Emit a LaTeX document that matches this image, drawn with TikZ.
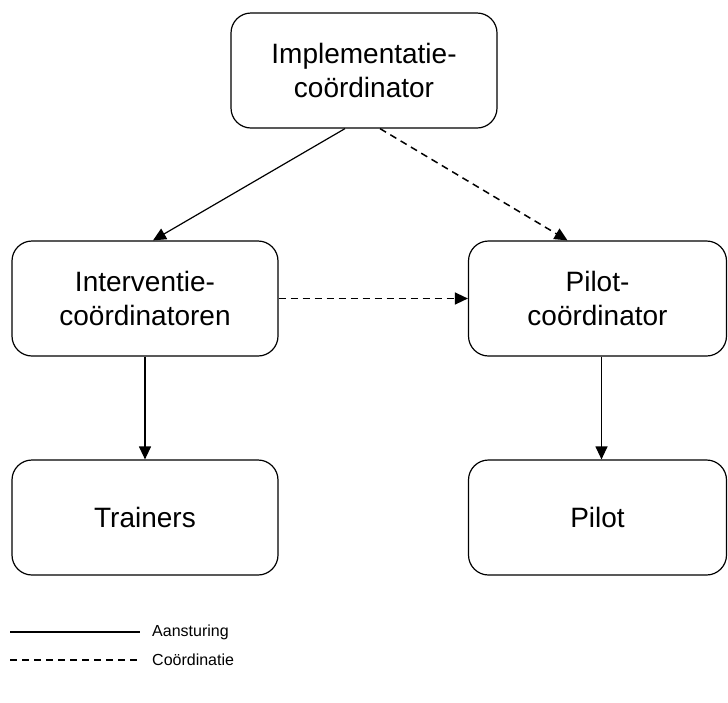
\documentclass[tikz,border=0pt]{standalone}
\usepackage{fontspec}
\setmainfont{Liberation Sans}
\usetikzlibrary{arrows.meta}
\begin{document}
\begin{tikzpicture}[x=1pt,y=-1pt,
  box/.style={draw, line width=1.2pt, rounded corners=20pt, minimum width=266pt, minimum height=115pt, align=center, font=\fontsize{28}{34}\selectfont, inner sep=0pt},
  conn/.style={line width=1.2pt, -{Triangle[length=13pt,width=12pt]}},
  dsh/.style={line width=1.5pt, dash pattern=on 7pt off 5pt},
  leg/.style={font=\fontsize{16}{19}\selectfont, anchor=west, inner sep=0pt}]
\useasboundingbox (0,0) rectangle (728,702);
\node[box] (top) at (364,70.5) {Implementatie-\\coördinator};
\node[box] (ic) at (145,298.5) {Interventie-\\coördinatoren};
\node[box, minimum width=258pt] (pc) at (597.5,298.5) {Pilot-\\coördinator};
\node[box] (tr) at (145,517.5) {Trainers};
\node[box, minimum width=258pt] (pi) at (597.5,517.5) {Pilot};
\draw[conn] ([xshift=-19pt]top.south) -- ([xshift=8pt]ic.north);
\draw[conn,dsh] ([xshift=16pt]top.south) -- ([xshift=-30pt]pc.north);
\draw[conn,dsh] (ic.east) -- (pc.west);
\draw[conn] (ic.south) -- (tr.north);
\draw[conn] ([xshift=4pt]pc.south) -- ([xshift=4pt]pi.north);
\coordinate (la1) at (10,632);
\coordinate (la2) at (140,632);
\coordinate (lb1) at (10,660);
\coordinate (lb2) at (140,660);
\draw[line width=1.2pt] (la1) -- (la2);
\draw[dsh] (lb1) -- (lb2);
\node[leg] (ta) at (152,632) {Aansturing};
\node[leg] (tb) at (152,660) {Coördinatie};
\end{tikzpicture}
\end{document}
